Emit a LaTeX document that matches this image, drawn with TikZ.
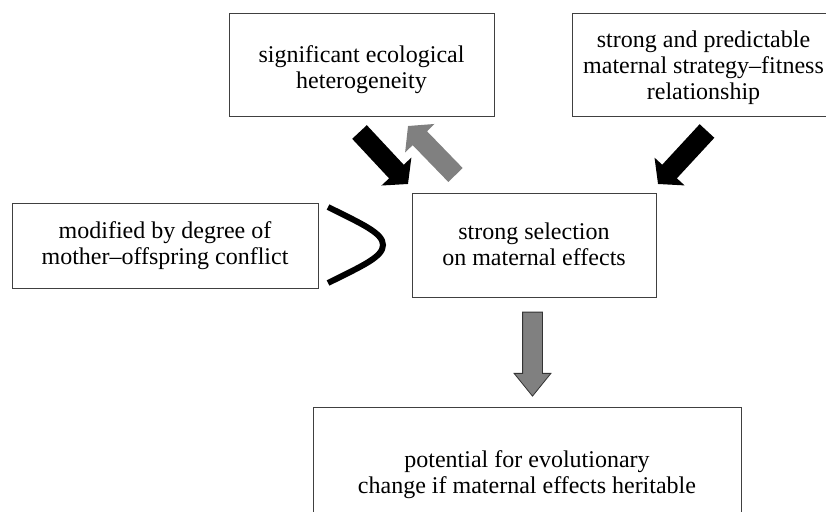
\documentclass[tikz,border=0pt]{standalone}
\usepackage{fontspec}
\setmainfont{Liberation Serif}
\usetikzlibrary{arrows.meta,shapes.arrows}
\begin{document}
\begin{tikzpicture}[x=1pt,y=-1pt,
  box/.style={draw=black!75,line width=0.9pt,inner sep=0pt},
  txt/.style={inner sep=0pt,align=center,font=\fontsize{24}{26}\selectfont},
  blockarrow/.style={line width=20pt,-{Triangle[width=40pt,length=17pt]}},
]
\useasboundingbox (0,0) rectangle (826,511);
\clip (0,0) rectangle (826,511);
\node[box,minimum width=265pt,minimum height=103pt] (eco) at (361.5,64.5) {};
\node[txt] (ecot) at ([yshift=-5pt]eco.center) {significant ecological\\heterogeneity};
\node[box,minimum width=263pt,minimum height=103pt] (pred) at (703.5,64.5) {};
\node[txt] (predt) at ([yshift=-3.5pt]pred.center) {strong and predictable\\maternal strategy–fitness\\relationship};
\node[box,minimum width=306pt,minimum height=85pt] (conf) at (165,245.5) {};
\node[txt] (conft) at (conf.center) {modified by degree of\\mother–offspring conflict};
\node[box,minimum width=244pt,minimum height=104pt] (sel) at (534,245) {};
\node[txt] (selt) at ([yshift=1pt]sel.center) {strong selection\\on maternal effects};
\node[box,minimum width=428pt,minimum height=138pt] (pot) at (527,476) {};
\node[txt] (pott) at ([yshift=1pt]pot.center) {potential for evolutionary\\change if maternal effects heritable};
% block arrows
\coordinate (a1s) at (359.5,132); \coordinate (a1e) at (408,184);
\coordinate (a2s) at (455.5,175); \coordinate (a2e) at (408,126);
\coordinate (a3s) at (707,131); \coordinate (a3e) at (658,184);
\draw[blockarrow,black] (a1s) -- (a1e);
\draw[blockarrow,black!50] (a2s) -- (a2e);
\draw[blockarrow,black] (a3s) -- (a3e);
% down arrow
\node[single arrow,draw=black!80,fill=black!50,line width=0.8pt,rotate=-90,
  minimum height=84pt,inner xsep=0pt,inner ysep=9.5pt,single arrow head extend=8.5pt,
  single arrow tip angle=78] (down) at (532.5,348) {};
% bracket
\draw[line width=6pt] (328,207) .. controls (362,224) and (383,233) .. (383,245)
  .. controls (383,257) and (362,266) .. (328,283);
\end{tikzpicture}
\end{document}
